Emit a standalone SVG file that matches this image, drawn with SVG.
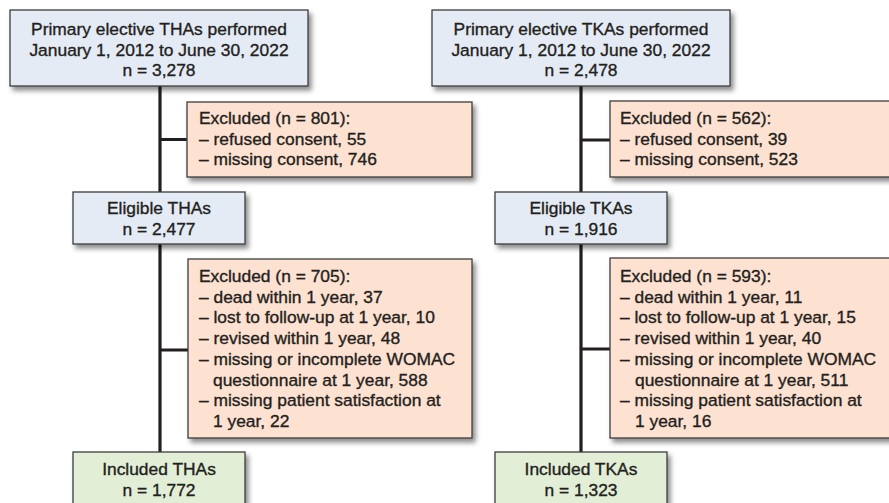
<svg xmlns="http://www.w3.org/2000/svg" width="889" height="503" viewBox="0 0 889 503">
<defs>
<filter id="sh" x="-10%" y="-10%" width="130%" height="140%">
<feDropShadow dx="3" dy="4" stdDeviation="2.5" flood-color="#000" flood-opacity="0.45"/>
</filter>
<style>
.box{stroke:#3d3d3d;stroke-width:1.3;filter:url(#sh)}
.blue{fill:#e5ebf5}
.peach{fill:#fde1d1}
.green{fill:#e2eed6}
text{font-family:"Liberation Sans",Arial,sans-serif;font-size:17.4px;fill:#231f20;stroke:#231f20;stroke-width:0.35}
.c{text-anchor:middle}
.ln{stroke:#231f20;stroke-width:3.2;fill:none}
</style>
</defs>
<rect width="889" height="503" fill="#fff"/>
<g id="connectors">
<path class="ln" d="M160 86V452M160 139.5H187M160 350H188"/>
<path class="ln" d="M581 86V452M581 140H610M581 349H610"/>
</g>
<g id="tha-primary">
<rect class="box blue" x="10" y="10" width="298" height="76"/>
<text class="c" x="159" y="35">Primary elective THAs performed</text>
<text class="c" x="159" y="55.5">January 1, 2012 to June 30, 2022</text>
<text class="c" x="159" y="76">n = 3,278</text>
</g>
<g id="tha-excluded1">
<rect class="box peach" x="187" y="102" width="285" height="75"/>
<text x="199" y="124">Excluded (n = 801):</text>
<text x="199" y="144.5">– refused consent, 55</text>
<text x="199" y="165">– missing consent, 746</text>
</g>
<g id="tha-eligible">
<rect class="box blue" x="73" y="192" width="172" height="52"/>
<text class="c" x="159" y="214">Eligible THAs</text>
<text class="c" x="159" y="235">n = 2,477</text>
</g>
<g id="tha-excluded2">
<rect class="box peach" x="188" y="259" width="284" height="179"/>
<text x="199" y="282">Excluded (n = 705):</text>
<text x="199" y="302.7">– dead within 1 year, 37</text>
<text x="199" y="323.4">– lost to follow-up at 1 year, 10</text>
<text x="199" y="344.1">– revised within 1 year, 48</text>
<text x="199" y="364.8">– missing or incomplete WOMAC</text>
<text x="213" y="385.5">questionnaire at 1 year, 588</text>
<text x="199" y="406.2">– missing patient satisfaction at</text>
<text x="213" y="426.9">1 year, 22</text>
</g>
<g id="tha-included">
<rect class="box green" x="73" y="452" width="172" height="60"/>
<text class="c" x="159" y="475">Included THAs</text>
<text class="c" x="159" y="496">n = 1,772</text>
</g>
<g id="tka-primary">
<rect class="box blue" x="432" y="10" width="298" height="76"/>
<text class="c" x="581" y="35">Primary elective TKAs performed</text>
<text class="c" x="581" y="55.5">January 1, 2012 to June 30, 2022</text>
<text class="c" x="581" y="76">n = 2,478</text>
</g>
<g id="tka-excluded1">
<rect class="box peach" x="610" y="101" width="290" height="76"/>
<text x="620" y="124">Excluded (n = 562):</text>
<text x="620" y="144.5">– refused consent, 39</text>
<text x="620" y="165">– missing consent, 523</text>
</g>
<g id="tka-eligible">
<rect class="box blue" x="495" y="192" width="172" height="52"/>
<text class="c" x="581" y="214">Eligible TKAs</text>
<text class="c" x="581" y="235">n = 1,916</text>
</g>
<g id="tka-excluded2">
<rect class="box peach" x="610" y="258" width="290" height="180"/>
<text x="620" y="282">Excluded (n = 593):</text>
<text x="620" y="302.7">– dead within 1 year, 11</text>
<text x="620" y="323.4">– lost to follow-up at 1 year, 15</text>
<text x="620" y="344.1">– revised within 1 year, 40</text>
<text x="620" y="364.8">– missing or incomplete WOMAC</text>
<text x="635" y="385.5">questionnaire at 1 year, 511</text>
<text x="620" y="406.2">– missing patient satisfaction at</text>
<text x="635" y="426.9">1 year, 16</text>
</g>
<g id="tka-included">
<rect class="box green" x="495" y="452" width="172" height="60"/>
<text class="c" x="581" y="475">Included TKAs</text>
<text class="c" x="581" y="496">n = 1,323</text>
</g>
</svg>
